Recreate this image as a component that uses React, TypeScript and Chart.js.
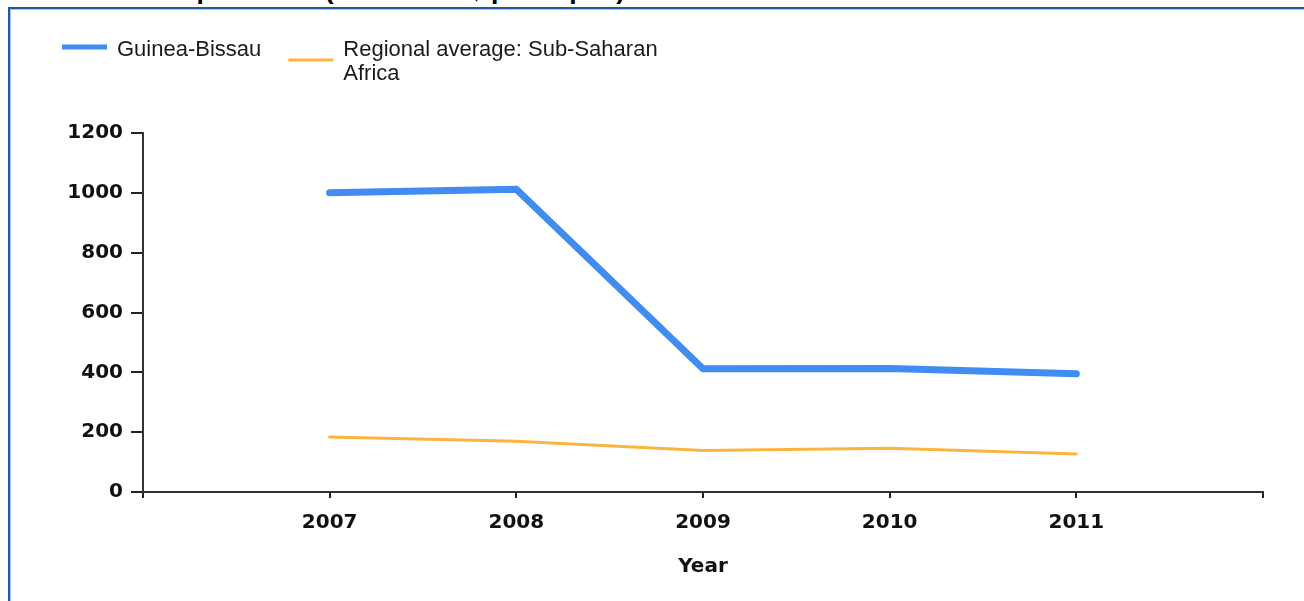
import React, { useEffect, useRef } from "react";
import { Chart, registerables } from "chart.js";

Chart.register(...registerables);

const titleText = "Total health expenditure (current US$ per capita)";
const years = [2007, 2008, 2009, 2010, 2011];
const guineaBissau = [1000, 1012, 412, 413, 395];
const regionalAverage = [184, 170, 139, 146, 127];
const seriesLabels = ["Guinea-Bissau", "Regional average: Sub-Saharan Africa"];
const yTicks = [0, 200, 400, 600, 800, 1000, 1200];
const axisTitle = "Year";

const CANVAS_W = 1294;
const CANVAS_H = 592;

function wrapText(ctx: CanvasRenderingContext2D, text: string, maxWidth: number): string[] {
  const words = text.split(" ");
  const lines: string[] = [];
  let cur = "";
  for (const w of words) {
    const test = cur ? cur + " " + w : w;
    if (ctx.measureText(test).width > maxWidth && cur) {
      lines.push(cur);
      cur = w;
    } else {
      cur = test;
    }
  }
  if (cur) lines.push(cur);
  return lines;
}

const legendPlugin = {
  id: "customLegend",
  afterDraw(chart: any) {
    const ctx: CanvasRenderingContext2D = chart.ctx;
    ctx.save();
    ctx.font = '22px "Liberation Sans", Arial, sans-serif';
    ctx.textBaseline = "alphabetic";
    ctx.textAlign = "left";
    let x = 52;
    const firstBase = 47;
    const lineH = 24;
    chart.data.datasets.forEach((ds: any) => {
      const lines = wrapText(ctx, ds.label, 330);
      const n = lines.length;
      const sampleY = 38 + (n - 1) * 13;
      ctx.strokeStyle = ds.borderColor;
      ctx.lineWidth = Math.min(ds.borderWidth, 5);
      ctx.lineCap = "butt";
      ctx.beginPath();
      ctx.moveTo(x, sampleY);
      ctx.lineTo(x + 45, sampleY);
      ctx.stroke();
      ctx.fillStyle = "#1a1a1a";
      let maxW = 0;
      lines.forEach((ln, i) => {
        ctx.fillText(ln, x + 55, firstBase + i * lineH);
        maxW = Math.max(maxW, ctx.measureText(ln).width);
      });
      x += 55 + maxW + 27;
    });
    ctx.restore();
  },
};

export default function App() {
  const canvasRef = useRef<HTMLCanvasElement | null>(null);

  useEffect(() => {
    if (!canvasRef.current) return;
    const tickFont = { family: '"DejaVu Sans", Verdana, sans-serif', size: 20, weight: "bold" as const };
    const chart = new Chart(canvasRef.current, {
      type: "line",
      data: {
        datasets: [
          {
            label: seriesLabels[0],
            data: years.map((y, i) => ({ x: y, y: guineaBissau[i] })),
            borderColor: "#418CF0",
            backgroundColor: "#418CF0",
            borderWidth: 7,
            borderCapStyle: "round",
            borderJoinStyle: "round",
            pointRadius: 0,
            tension: 0,
          },
          {
            label: seriesLabels[1],
            data: years.map((y, i) => ({ x: y, y: regionalAverage[i] })),
            borderColor: "#FCB441",
            backgroundColor: "#FCB441",
            borderWidth: 3,
            borderCapStyle: "round",
            borderJoinStyle: "round",
            pointRadius: 0,
            tension: 0,
          },
        ],
      },
      options: {
        animation: false,
        responsive: false,
        devicePixelRatio: 1,
        layout: { padding: { left: 0, top: 124, right: 41, bottom: 18 } },
        plugins: {
          legend: { display: false },
          tooltip: { enabled: false },
          title: { display: false },
        },
        scales: {
          x: {
            type: "linear",
            min: years[0] - 1,
            max: years[years.length - 1] + 1,
            offset: false,
            afterFit: (s: any) => {
              s.height = 91;
            },
            grid: {
              drawOnChartArea: false,
              drawTicks: true,
              tickLength: 6,
              color: "#222",
              lineWidth: 2,
            },
            border: { display: true, color: "#333", width: 2 },
            ticks: {
              stepSize: 1,
              autoSkip: false,
              maxRotation: 0,
              padding: 13,
              color: "#111",
              font: tickFont,
              callback: (v: any) => (years.includes(Number(v)) ? String(v) : ""),
            },
            title: {
              display: true,
              text: axisTitle,
              color: "#111",
              font: tickFont,
            },
          },
          y: {
            min: yTicks[0],
            max: yTicks[yTicks.length - 1],
            afterFit: (s: any) => {
              s.width = 133;
            },
            afterBuildTicks: (s: any) => {
              s.ticks = yTicks.map((v) => ({ value: v }));
            },
            grid: {
              drawOnChartArea: false,
              drawTicks: true,
              tickLength: 12,
              color: "#222",
              lineWidth: 2,
            },
            border: { display: true, color: "#333", width: 2 },
            ticks: {
              padding: 8,
              color: "#111",
              font: tickFont,
              callback: (v: any) => String(v),
            },
          },
        },
      },
      plugins: [legendPlugin],
    } as any);
    return () => chart.destroy();
  }, []);

  return (
    <div
      style={{
        position: "fixed",
        left: 0,
        top: 0,
        width: 1304,
        height: 601,
        overflow: "hidden",
        background: "#fff",
      }}
    >
      <div
        style={{
          position: "absolute",
          left: 13,
          top: -25,
          fontFamily: '"Liberation Sans", Arial, sans-serif',
          fontWeight: "bold",
          fontSize: "26.5px",
          lineHeight: "30px",
          whiteSpace: "nowrap",
          color: "#000",
        }}
      >
        {titleText}
      </div>
      <div
        style={{
          position: "absolute",
          left: 8,
          top: 7,
          width: 1400,
          height: 700,
          border: "2px solid #1f5a9a",
          boxShadow: "inset 1px 1px 0 #a9c6e6",
          boxSizing: "content-box",
        }}
      >
        <canvas
          ref={canvasRef}
          width={CANVAS_W}
          height={CANVAS_H}
          style={{ position: "absolute", left: 0, top: 0, width: CANVAS_W, height: CANVAS_H }}
        />
      </div>
    </div>
  );
}
